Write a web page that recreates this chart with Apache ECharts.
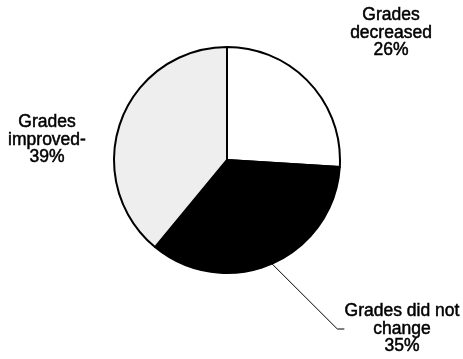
<!DOCTYPE html>
<html lang="en">
<head>
<meta charset="UTF-8">
<title>Grades</title>
<style>
  html, body { margin: 0; padding: 0; background: #fff; }
  #main { width: 463px; height: 359px; }
</style>
</head>
<body>
<div id="main"></div>
<script src="https://cdn.jsdelivr.net/npm/echarts@6/dist/echarts.min.js"></script>
<script>
var names = ['Grades\ndecreased', 'Grades did not\nchange', 'Grades\nimproved-'];
var values = [26, 35, 39];
var fills = ['#ffffff', '#000000', '#eeeeee'];
// label centres
var labelPos = [[391, 33], [402, 329], [47, 140]];

var chart = echarts.init(document.getElementById('main'));

var data = values.map(function (v, i) {
    return {
        value: v,
        name: names[i],
        itemStyle: { color: fills[i] },
        labelLine: { show: i === 1 }   // only the black slice has a leader line
    };
});

chart.setOption({
    animation: false,
    series: [{
        type: 'pie',
        center: [227, 160],
        radius: 113,
        startAngle: 90,
        clockwise: true,
        data: data,
        itemStyle: { borderColor: '#000', borderWidth: 2 },
        label: {
            show: true,
            position: 'outside',
            formatter: function (p) { return p.name + '\n' + p.value + '%'; },
            fontFamily: 'Liberation Sans',
            fontSize: 17.5,
            lineHeight: 17.5,
            color: '#000',
            // scanned text is a bit heavier than plain regular
            textBorderColor: '#000',
            textBorderWidth: 0.5,
            align: 'center'
        },
        labelLine: { length: 10, length2: 7, lineStyle: { color: '#000', width: 1 } },
        labelLayout: function (p) {
            return {
                x: labelPos[p.dataIndex][0],
                y: labelPos[p.dataIndex][1],
                align: 'center',
                verticalAlign: 'middle'
            };
        },
        emphasis: { disabled: true }
    }]
});
</script>
</body>
</html>
